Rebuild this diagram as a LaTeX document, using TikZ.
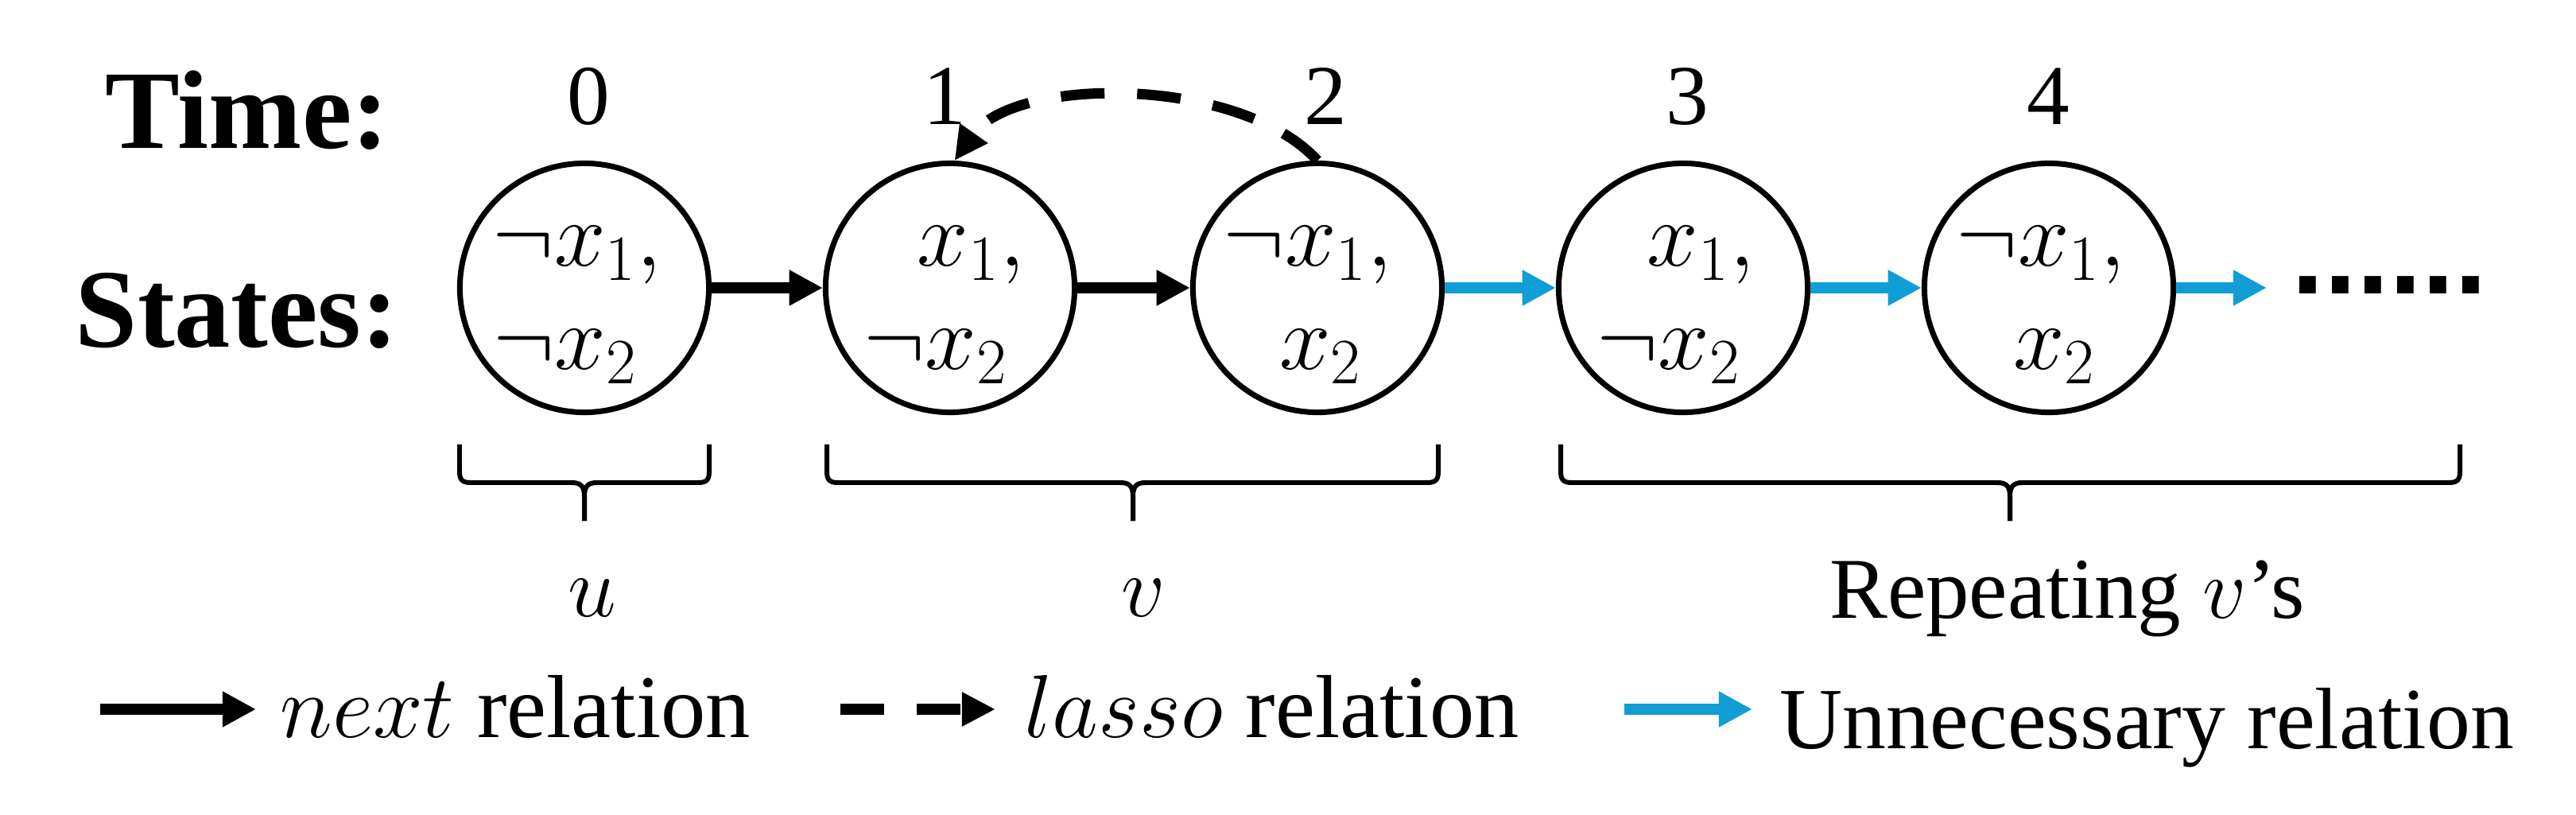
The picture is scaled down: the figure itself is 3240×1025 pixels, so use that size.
\documentclass[tikz,border=0pt]{standalone}
\usepackage{fix-cm}
\usepackage{fontspec}
\setmainfont{Liberation Serif}
\newfontfamily\dotfont{Liberation Sans}
\usetikzlibrary{arrows.meta}
\definecolor{relblue}{RGB}{17,158,214}
\tikzset{
  state/.style={circle, draw, line width=2pt, minimum size=3.13cm, inner sep=0pt},
  statetxt/.style={anchor=base, inner sep=0pt, font=\fontsize{33}{33}\selectfont},
  numtxt/.style={anchor=base, inner sep=0pt, font=\fontsize{30.5}{30.5}\selectfont},
  headtxt/.style={anchor=base, inner sep=0pt, font=\fontsize{40}{40}\selectfont\bfseries},
  lbltxt/.style={anchor=base, inner sep=0pt, font=\fontsize{31}{31}\selectfont},
  legtxt/.style={anchor=base west, inner sep=0pt, font=\fontsize{32}{32}\selectfont},
  nextarr/.style={line width=4pt, -{Triangle[length=12pt,width=12pt]}},
  lassoarr/.style={line width=3.7pt, dash pattern=on 15.65pt off 11.67pt, -{Triangle[length=12pt,width=11.5pt]}},
  bluearr/.style={line width=4.2pt, draw=relblue, -{Triangle[length=12pt,width=12pt,fill=relblue]}},
  bracket/.style={line width=1.7pt, line join=round}
}
\newcommand{\mybrace}[3]{%
  \draw[bracket] (#1,559) -- (#1,593) .. controls (#1,603) and ({#1+3},607) .. ({#1+14},607)
    -- ({#2-16},607) .. controls ({#2-5},607) and (#2,611) .. (#2,624) -- (#2,655);
  \draw[bracket] (#3,559) -- (#3,593) .. controls (#3,603) and ({#3-3},607) .. ({#3-14},607)
    -- ({#2+16},607) .. controls ({#2+5},607) and (#2,611) .. (#2,624) -- (#2,655);
}
\begin{document}
\begin{tikzpicture}[x=0.01cm, y=-0.01cm]
  \path[fill=white, use as bounding box] (0,0) rectangle (3240,1025);

  % headings
  \node[headtxt] (time) at (311,187) {Time:};
  \node[headtxt] (states) at (298,437) {States:};

  % time numbers
  \node[numtxt] (t0) at (740,157) {0};
  \node[numtxt] (t1) at (1188,157) {1};
  \node[numtxt] (t2) at (1667,157) {2};
  \node[numtxt] (t3) at (2122,157) {3};
  \node[numtxt] (t4) at (2576,157) {4};

  % states
  \node[state] (s0) at (735,362) {};
  \node[state] (s1) at (1195,362) {};
  \node[state] (s2) at (1657,362) {};
  \node[state] (s3) at (2117,362) {};
  \node[state] (s4) at (2577,362) {};

  \node[statetxt] (s0a) at (726,335) {$\neg x_1,$};
  \node[statetxt] (s0b) at (711,465) {$\neg x_2$};
  \node[statetxt] (s1a) at (1221,335) {$x_1,$};
  \node[statetxt] (s1b) at (1177,465) {$\neg x_2$};
  \node[statetxt] (s2a) at (1645,335) {$\neg x_1,$};
  \node[statetxt] (s2b) at (1661,465) {$x_2$};
  \node[statetxt] (s3a) at (2139,335) {$x_1,$};
  \node[statetxt] (s3b) at (2099,465) {$\neg x_2$};
  \node[statetxt] (s4a) at (2567,335) {$\neg x_1,$};
  \node[statetxt] (s4b) at (2584,465) {$x_2$};

  % connectors
  \draw[nextarr] (s0) -- (s1);
  \draw[nextarr] (s1) -- (s2);
  \draw[bluearr] (s2) -- (s3);
  \draw[bluearr] (s3) -- (s4);
  \coordinate (e4) at (2851,362);
  \draw[bluearr] (s4) -- (e4);
  \draw[lassoarr] (s2.north) .. controls (1559,95) and (1276,95) .. (s1.88);

  % dots
  \node[anchor=base west, inner sep=0pt, font=\dotfont\bfseries\fontsize{41.8}{41.8}\selectfont] (dots) at (2882,370) {......};

  % braces
  \mybrace{578}{735}{892}
  \mybrace{1040}{1425}{1809}
  \mybrace{1963}{2528}{3094}

  \node[lbltxt] (lu) at (745,775) {$u$};
  \node[lbltxt] (lv) at (1438,775) {$v$};
  \node[lbltxt] (lr) at (2600,777) {Repeating $v$’s};

  % legend
  \coordinate (ln1) at (126,892);
  \coordinate (ln2) at (322,892);
  \draw[nextarr] (ln1) -- (ln2);
  \node[legtxt] (lnt) at (352,927) {$next$ relation};

  \coordinate (ll1) at (1057,892);
  \coordinate (ll2) at (1252,892);
  \draw[lassoarr] (ll1) -- (ll2);
  \node[legtxt] (llt) at (1288,927) {$lasso$ relation};

  \coordinate (lb1) at (2043,892);
  \coordinate (lb2) at (2204,892);
  \draw[bluearr] (lb1) -- (lb2);
  \node[legtxt, font=\fontsize{31.2}{31.2}\selectfont] (lbt) at (2238,941) {Unnecessary relation};
\end{tikzpicture}
\end{document}
